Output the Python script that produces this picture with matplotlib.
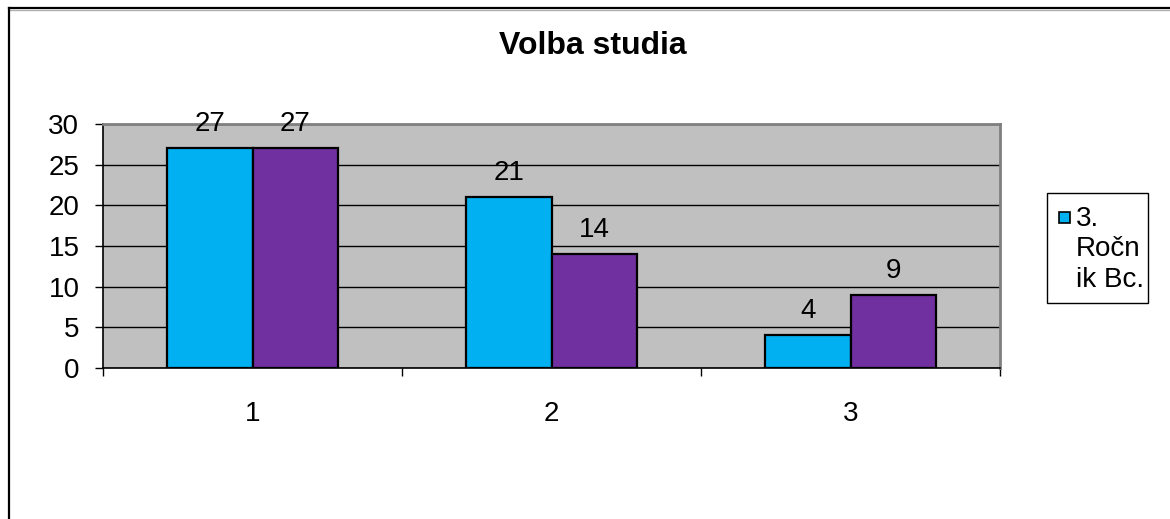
import matplotlib

matplotlib.use("Agg")
import matplotlib.pyplot as plt
import numpy as np
from matplotlib.lines import Line2D
from matplotlib.patches import Rectangle

plt.rcParams["font.family"] = ["Liberation Sans", "DejaVu Sans"]

categories = ["1", "2", "3"]
series_a = [27, 21, 4]
series_b = [27, 14, 9]
legend_label = "3.\nRočn\nik Bc."
title = "Volba studia"

CYAN = "#00B0F0"
PURPLE = "#7030A0"
PLOT_BG = "#C0C0C0"

fig = plt.figure(figsize=(11.7, 5.19), dpi=100, facecolor="white")
ax = fig.add_axes([103 / 1170, 151 / 519, 897 / 1170, 244 / 519])
ax.set_facecolor(PLOT_BG)

x = np.arange(len(categories))
w = 0.285
bars_a = ax.bar(x - w / 2, series_a, width=w, color=CYAN, edgecolor="black", linewidth=1.6, zorder=3)
bars_b = ax.bar(x + w / 2, series_b, width=w, color=PURPLE, edgecolor="black", linewidth=1.6, zorder=3)

for bars, vals in ((bars_a, series_a), (bars_b, series_b)):
    for b, v in zip(bars, vals):
        ax.annotate(str(v), (b.get_x() + b.get_width() / 2, v), xytext=(0, 8),
                    textcoords="offset points", ha="center", va="bottom", fontsize=20)

ax.set_xlim(-0.5, len(categories) - 0.5)
ax.set_ylim(0, 30)
ax.set_yticks(range(0, 31, 5))
ax.yaxis.grid(True, color="black", linewidth=1.0, zorder=1)
ax.set_axisbelow(True)
ax.tick_params(axis="y", length=6, width=1, pad=11, labelsize=20)

ax.set_xticks(x)
ax.set_xticklabels(categories)
ax.set_xticks(np.arange(-0.5, len(categories), 1.0), minor=True)
ax.tick_params(axis="x", which="major", length=0, pad=24, labelsize=20)
ax.tick_params(axis="x", which="minor", length=6, width=1)

ax.spines["left"].set_color("black")
ax.spines["bottom"].set_color("black")
ax.spines["left"].set_linewidth(1.2)
ax.spines["bottom"].set_linewidth(1.2)
for side in ("top", "right"):
    ax.spines[side].set_color("#808080")
    ax.spines[side].set_linewidth(2)

fig.text(593 / 1170, 1 - 46 / 519, title, ha="center", va="center", fontsize=23, fontweight="bold")

# legend box, drawn by hand so the key sits beside the first text line
fx = lambda px: px / 1170
fy = lambda py: 1 - py / 519
fig.add_artist(Rectangle((fx(1047), fy(303)), fx(101), 110 / 519, facecolor="white",
                         edgecolor="black", linewidth=1.0, transform=fig.transFigure))
fig.add_artist(Rectangle((fx(1059), fy(223)), fx(11), 11 / 519, facecolor=CYAN,
                         edgecolor="black", linewidth=1.2, transform=fig.transFigure))
fig.text(fx(1076), fy(206), legend_label, ha="left", va="top", fontsize=20, linespacing=1.22)

# chart frame: top and left edges only
fig.add_artist(Line2D([9 / 1170, 1], [1 - 8 / 519] * 2, color="black", linewidth=1.6, transform=fig.transFigure))
fig.add_artist(Line2D([9 / 1170, 1], [1 - 10 / 519] * 2, color="#B0B0B0", linewidth=1.0, transform=fig.transFigure))
fig.add_artist(Line2D([9 / 1170] * 2, [0, 1 - 8 / 519], color="black", linewidth=1.6, transform=fig.transFigure))

fig.savefig("out.png", dpi=100, facecolor="white")
